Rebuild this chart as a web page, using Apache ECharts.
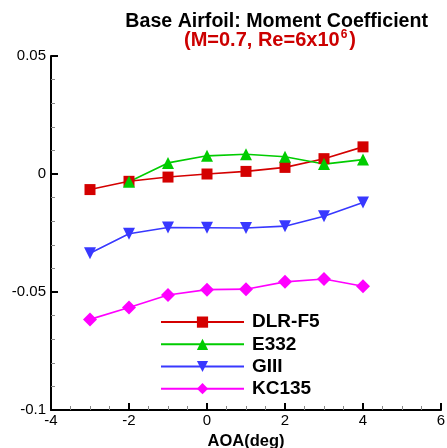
<!DOCTYPE html>
<html>
<head>
<meta charset="utf-8">
<script src="https://cdn.jsdelivr.net/npm/echarts@6/dist/echarts.min.js"></script>
<style>
  html, body { margin: 0; padding: 0; background: #fff; }
  #chart { width: 447px; height: 448px; }
</style>
</head>
<body>
<div id="chart"></div>
<script>
// Angle of attack (deg)
const aoa = [-3, -2, -1, 0, 1, 2, 3, 4];
const aoaE332 = [-2, -1, 0, 1, 2, 3, 4];

// Moment coefficient per airfoil
const dlrF5 = [-0.0066, -0.0031, -0.0013, 0.0000, 0.0011, 0.0028, 0.0065, 0.0115];
const e332  = [-0.0033, 0.0047, 0.0077, 0.0084, 0.0073, 0.0042, 0.0061];
const g3    = [-0.0336, -0.0253, -0.0227, -0.0228, -0.0229, -0.0221, -0.0179, -0.0121];
const kc135 = [-0.0616, -0.0566, -0.0513, -0.0490, -0.0488, -0.0457, -0.0445, -0.0476];

const xTicks = [-4, -2, 0, 2, 4, 6];
const yTicks = [-0.1, -0.05, 0, 0.05];

const names = ['DLR-F5', 'E332', 'GIII', 'KC135'];

function pairs(xs, ys) { return xs.map((x, i) => [x, ys[i]]); }

const chart = echarts.init(document.getElementById('chart'), null, { renderer: 'canvas' });

const font = "'Liberation Sans', Arial, Helvetica, sans-serif";

function lineSeries(name, xs, ys, color, symbol, size) {
  return {
    name: name,
    type: 'line',
    data: pairs(xs, ys),
    symbol: symbol,
    symbolSize: size,
    showAllSymbol: true,
    lineStyle: { color: color, width: 1.6 },
    itemStyle: { color: color },
    emphasis: { disabled: true },
    z: 3
  };
}

chart.setOption({
  animation: false,
  backgroundColor: '#ffffff',
  title: [
    {
      text: 'Base Airfoil: Moment Coefficient',
      right: 14, top: 7,
      textStyle: { fontFamily: font, fontSize: 19.6, fontWeight: 'bold', color: '#000' }
    },
    {
      text: '{a|(M=0.7, Re=6x10}{s|6}{a|)}',
      left: 179, top: 24,
      textStyle: {
        rich: {
          a: { fontFamily: font, fontSize: 20, fontWeight: 'bold', color: '#cc0000', lineHeight: 22 },
          s: { fontFamily: font, fontSize: 12, fontWeight: 'bold', color: '#cc0000', lineHeight: 22, verticalAlign: 'top', padding: [0, 2, 8, 1] }
        }
      }
    }
  ],
  legend: {
    orient: 'vertical',
    left: 155, top: 306,
    itemWidth: 83, itemHeight: 14, itemGap: 0,
    selectedMode: false,
    data: names,
    textStyle: { fontFamily: font, fontSize: 19, fontWeight: 'bold', color: '#000', lineHeight: 22.2, padding: [0, 0, 0, 3] }
  },
  grid: { left: 51, right: 6, top: 56, bottom: 38, containLabel: false, outerBoundsMode: 'none' },
  xAxis: {
    type: 'value',
    min: xTicks[0], max: xTicks[xTicks.length - 1], interval: 2,
    name: 'AOA(deg)', nameLocation: 'middle', nameGap: 17,
    nameTextStyle: { fontFamily: font, fontSize: 16.5, fontWeight: 'bold', color: '#000' },
    axisLine: { show: true, onZero: false, lineStyle: { color: '#000', width: 2 } },
    axisTick: { show: true, inside: true, length: 7, lineStyle: { color: '#000', width: 2 } },
    minorTick: { show: true, splitNumber: 4, length: 4, lineStyle: { color: '#888', width: 1 } },
    axisLabel: { fontFamily: font, fontSize: 15, color: '#000', margin: 3, showMinLabel: true, showMaxLabel: true },
    splitLine: { show: false }
  },
  yAxis: {
    type: 'value',
    min: yTicks[0], max: yTicks[yTicks.length - 1], interval: 0.05,
    name: 'Cm', nameLocation: 'middle', nameGap: 24, nameRotate: 90,
    nameTextStyle: { fontFamily: font, fontSize: 16.5, fontWeight: 'bold', color: '#000' },
    axisLine: { show: true, onZero: false, lineStyle: { color: '#000', width: 2 } },
    axisTick: { show: true, inside: true, length: 7, lineStyle: { color: '#000', width: 2 } },
    minorTick: { show: true, splitNumber: 5, length: 4, lineStyle: { color: '#888', width: 1 } },
    axisLabel: {
      fontFamily: font, fontSize: 15, color: '#000', margin: 5,
      formatter: v => String(Math.round(v * 100) / 100)
    },
    splitLine: { show: false }
  },
  series: [
    lineSeries(names[0], aoa, dlrF5, '#d40000', 'rect', 11),
    lineSeries(names[1], aoaE332, e332, '#00cc00', 'triangle', 12),
    Object.assign(lineSeries(names[2], aoa, g3, '#3838ff', 'triangle', 12), { symbolRotate: 180 }),
    lineSeries(names[3], aoa, kc135, '#ff00ff', 'diamond', 14)
  ]
});
</script>
</body>
</html>
